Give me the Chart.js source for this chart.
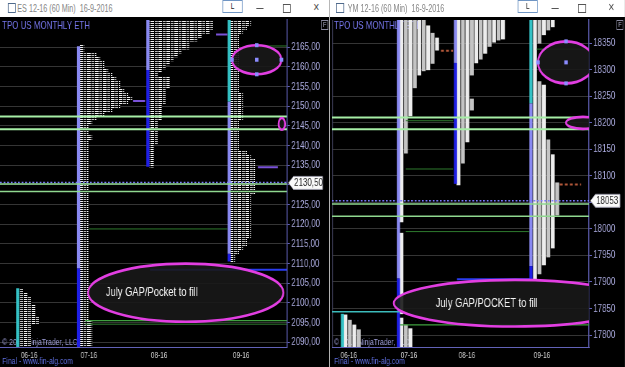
<!DOCTYPE html>
<html lang="en">
<head>
<meta charset="UTF-8">
<title>ES / YM - TPO US monthly</title>
<script src="https://cdn.jsdelivr.net/npm/chart.js"></script>
<style>
  html, body { margin: 0; padding: 0; }
  body { width: 625px; height: 367px; overflow: hidden; background: #f4f4f4; font-family: Arial, "Liberation Sans", sans-serif; }
  /* the screenshot is squeezed sideways, so the stage is laid out wider and scaled back */
  #stage { position: absolute; left: 0; top: 0; width: 868px; height: 367px; transform: scaleX(0.72); transform-origin: 0 0; }
  .win { position: absolute; top: 0; height: 367px; background: #000; overflow: hidden; }
  .bar { position: absolute; left: 0; right: 0; top: 0; height: 17px; background: #fff; }
  .ico { position: absolute; top: 3px; width: 9px; height: 8px; border: 1px solid #4f6a8c; }
  .ttl { position: absolute; top: 3px; font-size: 10px; color: #858585; white-space: pre; }
  .lbtn { position: absolute; top: 0; width: 26px; height: 11px; border: 1px solid #6f95c4; font-size: 9px; line-height: 11px; text-align: center; color: #222; background: #fff; }
  .min { position: absolute; top: 8px; width: 10px; height: 1px; background: #555; }
  .max { position: absolute; top: 4px; width: 9px; height: 7px; border: 1px solid #555; }
  .cls { position: absolute; top: 1px; font-size: 11px; color: #555; }
  .fbox { position: absolute; top: 20px; width: 8px; height: 8px; border: 1px solid #8a8aa0; color: #b0b0c8; font-size: 8px; line-height: 8px; text-align: center; }
  canvas { position: absolute; left: 0; top: 17px; }
</style>
</head>
<body>
<div id="stage">
  <div class="win" style="left:0;width:457px">
    <div class="bar">
      <span class="ico" style="left:11px"></span>
      <span class="ttl" style="left:24px">ES 12-16 (60 Min)  16-9-2016</span>
      <span class="lbtn" style="left:309px">L</span>
      <span class="min" style="left:356px"></span>
      <span class="max" style="left:393px"></span>
      <span class="cls" style="left:435px">✕</span>
    </div>
    <canvas id="es" width="457" height="350"></canvas>
    <span class="fbox" style="left:446px">F</span>
  </div>
  <div class="win" style="left:458px;width:410px">
    <div class="bar">
      <span class="ico" style="left:9px"></span>
      <span class="ttl" style="left:25px">YM 12-16 (60 Min)  16-9-2016</span>
      <span class="lbtn" style="left:261px">L</span>
      <span class="min" style="left:308px"></span>
      <span class="max" style="left:345px"></span>
      <span class="cls" style="left:387px">✕</span>
    </div>
    <canvas id="ym" width="410" height="350"></canvas>
    <span class="fbox" style="left:398px">F</span>
  </div>
</div>

<script>
  // ---------- data ----------
  const monthLabels = ['06-16', '07-16', '08-16', '09-16'];

  // ES 12-16, one row per point, widths in TPO blocks (top row first)
  const esPriceTicks = [2090, 2095, 2100, 2105, 2110, 2115, 2120, 2125, 2130, 2135, 2140, 2145, 2150, 2155, 2160, 2165];
  const esMonthPos = [7.3, 22.3, 39.9, 60.5];
  const esJun = { col: 4.43, top: 2103, widths: [1, 2, 3, 3, 4, 4, 4, 5, 5, 3, 3, 3, 3, 3, 3] };
  const esJul = { col: 19.7, top: 2165, widths: [
    1, 1, 4, 5, 6, 6, 7, 8, 9, 10,
    10, 11, 12, 13, 12, 10, 8, 6, 4, 3,
    2, 2, 2, 3, 2, 2, 2, 2, 2, 2,
    2, 2, 2, 2, 2, 2, 2, 2, 2, 2,
    2, 2, 2, 2, 2, 2, 2, 2, 2, 2,
    2, 2, 2, 2, 2, 2, 2, 2, 2, 2,
    2, 2, 2, 2, 2, 2, 2, 2, 2, 2,
    3, 3, 3, 3, 3, 3, 3] };
  const esAug = { col: 37.1, top: 2172, widths: [
    16, 16, 16, 15, 13, 12, 10, 10, 8, 7,
    6, 5, 4, 3, 2, 5, 5, 5, 4, 4,
    4, 4, 3, 3, 3, 3, 2, 2, 2, 2,
    2, 2, 1, 1, 1, 1, 1, 1] };
  const esSep = { col: 57.5, top: 2172, widths: [
    5, 5, 4, 3, 2, 2, 2, 2, 2, 2,
    2, 2, 2, 2, 2, 2, 2, 2, 2, 3,
    3, 3, 3, 3, 3, 3, 2, 2, 2, 2,
    2, 2, 2, 2, 4, 5, 6, 6, 6, 6,
    6, 6, 6, 6, 6, 5, 5, 5, 5, 5,
    5, 5, 5, 5, 5, 5, 4, 4, 3, 2,
    1, 1] };
  const esColumns = [
    { x: 4.43, from: 2080, to: 2103.7, kind: 'cyan' },
    { x: 19.7, from: 2108.8, to: 2165.2, kind: 'lav' },
    { x: 19.7, from: 2080, to: 2108.8, kind: 'blue' },
    { x: 37.1, from: 2159.2, to: 2180, kind: 'lav' },
    { x: 37.1, from: 2134.6, to: 2159.2, kind: 'blue' },
    { x: 57.5, from: 2151.2, to: 2180, kind: 'cyan' },
    { x: 57.5, from: 2112.5, to: 2151.2, kind: 'lav' },
    { x: 57.5, from: 2110.5, to: 2112.5, kind: 'blue' }
  ];
  const esLevels = [
    { y: 2147.35, from: 0, to: 72, kind: 'va' },
    { y: 2144.15, from: 0, to: 72, kind: 'va' },
    { y: 2130.25, from: 0, to: 72, kind: 'va2' },
    { y: 2128.3, from: 0, to: 72, kind: 'va2' },
    { y: 2130.6, from: 0, to: 72, kind: 'last' },
    { y: 2151.3, from: 33.4, to: 36.4, kind: 'mid' },
    { y: 2168.2, from: 54.2, to: 57.0, kind: 'mid' },
    { y: 2134.5, from: 64.7, to: 69.7, kind: 'mid' },
    { y: 2165.3, from: 64.4, to: 72, kind: 'dg' },
    { y: 2118.8, from: 22.3, to: 57.0, kind: 'dg' },
    { y: 2108.4, from: 37.6, to: 72, kind: 'blue' },
    { y: 2095.5, from: 21.3, to: 72, kind: 'g' },
    { y: 2094.6, from: 21.3, to: 72, kind: 'dg' }
  ];
  const esMarks = [
    { x: 64.4, y: 2161.8, rx: 6.2, ry: 3.7, handles: true },
    { x: 70.7, y: 2145.5, rx: 0.8, ry: 1.5 },
    { x: 46.6, y: 2102.6, rx: 24.5, ry: 7.4, text: 'July GAP/Pocket to fill', tx: 38.1 }
  ];

  // YM 12-16, one list of [low, high] pieces per TPO column
  const ymPriceTicks = [17800, 17850, 17900, 17950, 18000, 18050, 18100, 18150, 18200, 18250, 18300, 18350];
  const ymMonthPos = [3.82, 17.3, 30.34, 47.2];
  const ymJun = { start: 3.03, cols: [
    [[17770, 17838]], [[17770, 17828]], [[17770, 17819]], [[17770, 17810]]
  ] };
  const ymJul = { start: 15.62, cols: [
    [[17770, 17832], [17840, 17992], [18013, 18410]],
    [[17770, 17819], [18143, 18410]],
    [[17770, 17812], [18213, 18410]],
    [[18266, 18410]],
    [[18290, 18410]],
    [[18298, 18410]],
    [[18300, 18383]],
    [[18312, 18369]],
    [[18337, 18360]]
  ] };
  const ymAug = { start: 28.43, cols: [
    [[18083, 18410]],
    [[18124, 18410]],
    [[18164, 18410]],
    [[18224, 18245], [18290, 18410]],
    [[18313, 18410]],
    [[18320, 18410]],
    [[18331, 18410]],
    [[18344, 18410]],
    [[18352, 18410]],
    [[18356, 18410]],
    [[18358, 18410]]
  ] };
  const ymSep = { start: 45.62, cols: [
    [[17904, 18410]],
    [[17915, 18278], [18350, 18410]],
    [[17932, 18271], [18366, 18410]],
    [[17947, 18168], [18375, 18410]],
    [[17964, 18140], [18381, 18410]],
    [[18026, 18087]]
  ] };
  const ymColumns = [
    { x: 2.36, from: 17770, to: 17840, kind: 'cyan' },
    { x: 14.94, from: 17907, to: 18410, kind: 'lav' },
    { x: 14.94, from: 17770, to: 17907, kind: 'blue' },
    { x: 27.75, from: 18313, to: 18410, kind: 'lav' },
    { x: 27.75, from: 18085, to: 18313, kind: 'blue' },
    { x: 44.72, from: 18237, to: 18410, kind: 'cyan' },
    { x: 44.72, from: 17930, to: 18237, kind: 'lav' },
    { x: 44.72, from: 17905, to: 17930, kind: 'blue' }
  ];
  const ymLevels = [
    { y: 18210, from: 0, to: 57.75, kind: 'va' },
    { y: 18188, from: 0, to: 57.75, kind: 'va' },
    { y: 18047, from: 0, to: 57.75, kind: 'va2' },
    { y: 18024, from: 0, to: 57.75, kind: 'va2' },
    { y: 18053, from: 0, to: 57.75, kind: 'last' },
    { y: 18339, from: 46, to: 57.75, kind: 'dg' },
    { y: 18204, from: 16.6, to: 27.2, kind: 'dg' },
    { y: 18113, from: 16.6, to: 27.2, kind: 'dg' },
    { y: 17995, from: 16.6, to: 44.3, kind: 'dg' },
    { y: 17905, from: 28.1, to: 44.5, kind: 'blue' },
    { y: 17844, from: 0, to: 15.3, kind: 'cyan' },
    { y: 17819, from: 15.3, to: 57.75, kind: 'g' },
    { y: 18336, from: 24.5, to: 27.2, kind: 'gap' },
    { y: 18084, from: 51.2, to: 56, kind: 'gap' }
  ];
  const ymMarks = [
    { x: 52.6, y: 18314, rx: 6.3, ry: 39.6, handles: true },
    { x: 56.4, y: 18200, rx: 3.8, ry: 11.3 },
    { x: 41.1, y: 17860, rx: 27.2, ry: 44, text: 'July GAP/POCKET to fill', tx: 34.8 }
  ];

  // ---------- styles ----------
  const FONT = 'Arial, "Liberation Sans", sans-serif';
  const axisColor = '#6262b8';
  const columnColors = { lav: '#8a8af2', blue: '#1f1fe6', cyan: '#35c2c6' };
  const lineStyles = {
    va:   { color: '#a6eea6', width: 2 },
    va2:  { color: '#8fd88f', width: 1.5 },
    last: { color: '#7c7cff', width: 1.5, dash: [2.5, 2.5] },
    mid:  { color: '#7a52d8', width: 2 },
    dg:   { color: '#2e7a2e', width: 1 },
    g:    { color: '#3fa03f', width: 1.2 },
    blue: { color: '#2a3cf0', width: 2 },
    cyan: { color: '#3cbcbc', width: 1.5 },
    gap:  { color: '#b4583a', width: 2, dash: [4, 3] }
  };

  // striped TPO block fill
  const tpoFill = (canvas) => {
    const tile = document.createElement('canvas');
    tile.width = 11; tile.height = 2;
    const g = tile.getContext('2d');
    g.fillStyle = '#000'; g.fillRect(0, 0, 11, 2);
    g.fillStyle = '#f2f2f2'; g.fillRect(0, 0, 5, 1);
    g.fillStyle = '#bcbcbc'; g.fillRect(6, 0, 4, 1);
    return canvas.getContext('2d').createPattern(tile, 'repeat');
  };

  const levelDatasets = (levels) => levels.map(l => {
    const s = lineStyles[l.kind];
    return {
      type: 'line', data: [{ x: l.from, y: l.y }, { x: l.to, y: l.y }],
      borderColor: s.color, borderWidth: s.width, borderDash: s.dash || [],
      pointRadius: 0, clip: 0, order: 1
    };
  });

  const columnDatasets = (cols) => cols.map(c => ({
    type: 'line', data: [{ x: c.x, y: c.from }, { x: c.x, y: c.to }],
    borderColor: columnColors[c.kind], borderWidth: 4.4, borderCapStyle: 'butt',
    pointRadius: 0, clip: 0, order: 2
  }));

  // ellipses, notes and the last-price box
  const decor = {
    id: 'decor',
    beforeDatasetsDraw(chart, args, o) {
      const { ctx, chartArea: a } = chart;
      ctx.save();
      if (o.frameLeft) {
        ctx.strokeStyle = '#3c3c56'; ctx.lineWidth = 1.4;
        ctx.beginPath(); ctx.moveTo(a.left + 0.7, a.top); ctx.lineTo(a.left + 0.7, a.bottom); ctx.stroke();
      }
      ctx.textBaseline = 'middle'; ctx.textAlign = 'left';
      ctx.fillStyle = '#7676ea'; ctx.font = '11px ' + FONT;
      ctx.fillText('TPO US MONTHLY ETH', a.left + 3, 9);
      ctx.fillStyle = '#9a9ad2'; ctx.font = '9.5px ' + FONT;
      ctx.fillText('© 2016 NinjaTrader, LLC', a.left + 3, a.bottom - 5);
      ctx.restore();
    },
    afterDatasetsDraw(chart, args, o) {
      const { ctx, chartArea: a, scales: { x, y } } = chart;
      ctx.save();
      ctx.beginPath(); ctx.rect(a.left, a.top, a.width, a.height); ctx.clip();
      o.marks.forEach(m => {
        const cx = x.getPixelForValue(m.x), cy = y.getPixelForValue(m.y);
        const rx = x.getPixelForValue(m.x + m.rx) - cx;
        const ry = cy - y.getPixelForValue(m.y + m.ry);
        ctx.beginPath(); ctx.ellipse(cx, cy, rx, ry, 0, 0, Math.PI * 2);
        ctx.fillStyle = 'rgba(24,24,24,0.9)'; ctx.fill();
        ctx.lineWidth = 2.6; ctx.strokeStyle = '#e23ee2'; ctx.stroke();
        if (m.handles) {
          ctx.fillStyle = '#8c8cff';
          [[cx, cy - ry], [cx, cy + ry], [cx - rx, cy], [cx + rx, cy], [cx, cy]]
            .forEach(([hx, hy]) => ctx.fillRect(hx - 2.5, hy - 2, 5, 4));
        }
        if (m.text) {
          ctx.fillStyle = '#f5f5f5'; ctx.font = '13px ' + FONT;
          ctx.textAlign = 'center'; ctx.textBaseline = 'middle';
          ctx.fillText(m.text, x.getPixelForValue(m.tx), cy);
        }
      });
      ctx.restore();
    },
    afterDraw(chart, args, o) {
      const { ctx, chartArea: a, scales: { y }, width } = chart;
      const py = y.getPixelForValue(o.marker.value);
      const x0 = a.right + 2, x1 = width - o.marker.inset;
      ctx.save();
      ctx.beginPath();
      ctx.moveTo(x0, py); ctx.lineTo(x0 + 7, py - 6.5); ctx.lineTo(x1, py - 6.5);
      ctx.lineTo(x1, py + 6.5); ctx.lineTo(x0 + 7, py + 6.5); ctx.closePath();
      ctx.fillStyle = '#fafafa'; ctx.fill();
      ctx.strokeStyle = '#9a9aa8'; ctx.lineWidth = 1; ctx.stroke();
      ctx.fillStyle = '#2a2a2a'; ctx.font = '11px ' + FONT; ctx.textBaseline = 'middle';
      ctx.fillText(o.marker.text, x0 + 8, py + 0.5);
      ctx.fillStyle = '#5f6fe0'; ctx.font = '9.5px ' + FONT;
      ctx.fillText('Final - www.fin-alg.com', a.left + 3, 344);
      ctx.restore();
    }
  };

  const makeScales = (xMax, yMin, yMax, monthPos, priceTicks, fmt, yWidth) => ({
    x: {
      type: 'linear', min: 0, max: xMax, offset: false,
      grid: { display: false, drawTicks: false, offset: false },
      border: { color: axisColor, width: 1 },
      afterBuildTicks: s => { s.ticks = monthPos.map(v => ({ value: v })); },
      afterFit: s => { s.height = 20; s.paddingLeft = 0; s.paddingRight = 0; },
      ticks: { autoSkip: false, maxRotation: 0, padding: 3, color: '#d0d0d0', font: { size: 9, family: FONT },
        callback: (v, i) => monthLabels[i] }
    },
    y: {
      type: 'linear', position: 'right', min: yMin, max: yMax, offset: false,
      afterBuildTicks: s => { s.ticks = priceTicks.map(v => ({ value: v })); },
      afterFit: s => { s.width = yWidth; s.paddingTop = 0; s.paddingBottom = 0; },
      grid: { color: '#353535', tickColor: axisColor, tickLength: 4, offset: false },
      border: { color: axisColor, width: 1.4 },
      ticks: { color: '#a9a9dc', font: { size: 11, family: FONT }, padding: 2, callback: fmt }
    }
  });

  // ---------- ES chart ----------
  const esCanvas = document.getElementById('es');
  const esBars = [esJun, esJul, esAug, esSep].flatMap(p =>
    p.widths.map((w, i) => ({ y: p.top - i, x: [p.col + 0.4, p.col + 0.4 + w] })));

  new Chart(esCanvas, {
    type: 'bar',
    data: {
      datasets: [
        ...levelDatasets(esLevels),
        ...columnDatasets(esColumns),
        { type: 'bar', indexAxis: 'y', data: esBars, backgroundColor: tpoFill(esCanvas),
          borderWidth: 0, barThickness: 4, clip: 0, order: 3 }
      ]
    },
    options: {
      responsive: false, animation: false, devicePixelRatio: 1, events: [],
      layout: { padding: { top: 3, left: 0, right: 0, bottom: 0 } },
      plugins: {
        legend: { display: false }, tooltip: { enabled: false },
        decor: { marks: esMarks, marker: { value: 2130.5, text: '2130,50', inset: 9 } }
      },
      scales: makeScales(72, 2088.8, 2171.9, esMonthPos, esPriceTicks,
        v => v.toFixed(2).replace('.', ','), 58.4)
    },
    plugins: [decor]
  });

  // ---------- YM chart ----------
  const ymCanvas = document.getElementById('ym');
  const ymBars = [];
  [ymJun, ymJul, ymAug, ymSep].forEach(p =>
    p.cols.forEach((pieces, k) => pieces.forEach(r => ymBars.push({ x: p.start + k, y: r, k }))));

  new Chart(ymCanvas, {
    type: 'bar',
    data: {
      datasets: [
        ...levelDatasets(ymLevels),
        ...columnDatasets(ymColumns),
        { type: 'bar', data: ymBars, barThickness: 4.7, borderWidth: 0, clip: 0, order: 3,
          backgroundColor: c => (c.raw && c.raw.k % 2) ? '#c4c4c4' : '#ededed' }
      ]
    },
    options: {
      responsive: false, animation: false, devicePixelRatio: 1, events: [],
      layout: { padding: { top: 3, left: 3, right: 0, bottom: 0 } },
      plugins: {
        legend: { display: false }, tooltip: { enabled: false },
        decor: { marks: ymMarks, frameLeft: true, marker: { value: 18053, text: '18053', inset: 7 } }
      },
      scales: makeScales(57.75, 17777.4, 18393.9, ymMonthPos, ymPriceTicks, v => String(v), 50)
    },
    plugins: [decor]
  });
</script>
</body>
</html>
